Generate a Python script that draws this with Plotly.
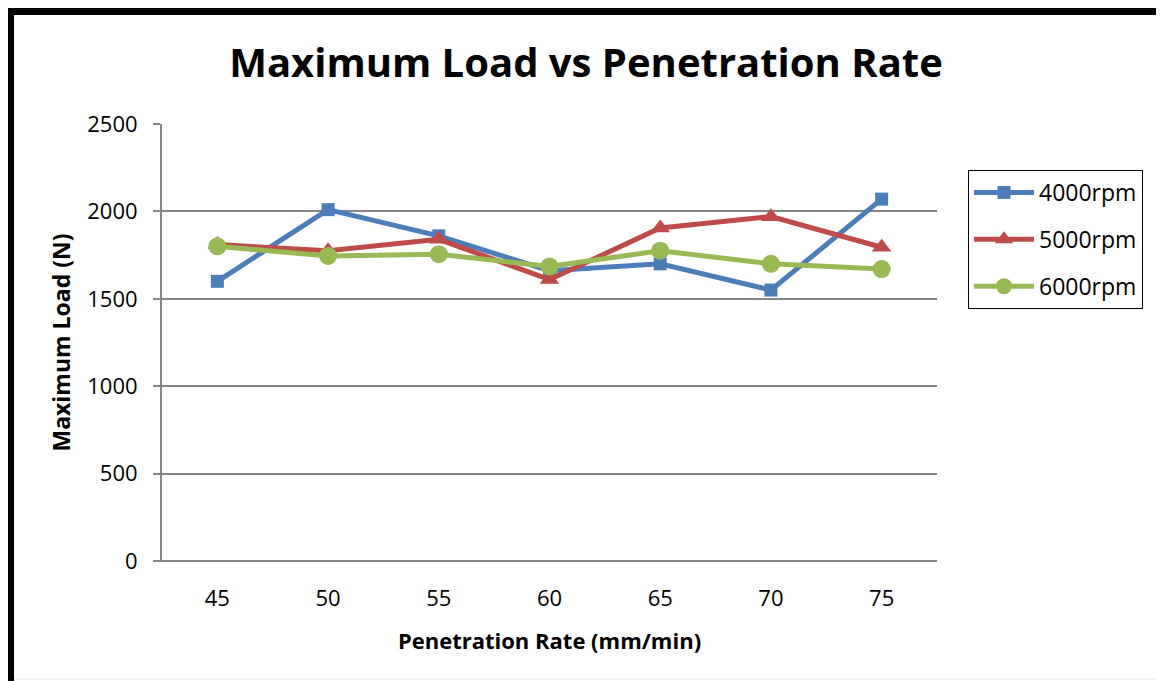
import plotly.graph_objects as go

rates = ["45", "50", "55", "60", "65", "70", "75"]
load_4000 = [1600, 2010, 1860, 1660, 1700, 1550, 2070]
load_5000 = [1810, 1775, 1840, 1610, 1905, 1970, 1795]
load_6000 = [1800, 1745, 1755, 1685, 1775, 1700, 1670]
series_names = ["4000rpm", "5000rpm", "6000rpm"]
y_ticks = [0, 500, 1000, 1500, 2000, 2500]

OFF = 8  # page body margin
W, H = 1164 - OFF, 681 - OFF
# plot area in screen pixels, converted to figure pixels
L, R, T, B = 162 - OFF, 937 - OFF, 124 - OFF, 561 - OFF
FONT = "Open Sans"

fig = go.Figure()
styles = [
    ("#4A7EBB", "square", 13),
    ("#BE4B48", "triangle-up", 17),
    ("#98B954", "circle", 18),
]
for i, (name, vals, (col, sym, sz)) in enumerate(zip(series_names, [load_4000, load_5000, load_6000], styles)):
    fig.add_trace(go.Scatter(
        x=rates, y=vals, name=name, mode="lines+markers", legendgroup=f"g{i}",
        line=dict(color=col, width=5),
        marker=dict(symbol=sym, size=sz, color=col, line=dict(width=0)),
    ))

def px(x):  # screen px -> paper
    return (x - OFF - L) / (R - L)

def py(y):
    return (B - (y - OFF)) / (B - T)

shapes = []
for x0, y0, x1, y1 in [(6, 7, 14, 700), (6, 7, 1180, 15), (1158, 7, 1180, 700)]:
    shapes.append(dict(type="rect", xref="paper", yref="paper",
                       x0=px(x0), x1=px(x1), y0=py(y1), y1=py(y0),
                       fillcolor="black", line=dict(width=0), layer="above"))
shapes.append(dict(type="line", xref="paper", yref="paper",
                   x0=px(14), x1=px(1158), y0=py(679), y1=py(679),
                   line=dict(color="#E6E6E6", width=1)))
shapes.append(dict(type="line", xref="paper", yref="paper",
                   x0=px(154), x1=1, y0=0, y1=0,
                   line=dict(color="#868686", width=2)))

fig.update_layout(
    width=W, height=H,
    margin=dict(l=L, r=W - R, t=T, b=H - B),
    paper_bgcolor="white", plot_bgcolor="white",
    font=dict(family=FONT, color="black", size=22),
    title=dict(text="<b>Maximum Load vs Penetration Rate</b>",
               xref="container", x=(586 - OFF) / W, xanchor="center",
               yref="container", y=1 - (63 - OFF) / H, yanchor="middle",
               font=dict(size=40, family=FONT)),
    xaxis=dict(
        type="category", showgrid=False, showline=False,
        ticks="outside", ticklen=18, tickcolor="rgba(0,0,0,0)",
        tickfont=dict(size=22),
        title=dict(text="<b>Penetration Rate (mm/min)</b>", font=dict(size=22), standoff=22),
        range=[-0.5, 6.5],
    ),
    yaxis=dict(
        range=[0, 2500], tickvals=y_ticks, ticktext=[str(v) for v in y_ticks],
        showgrid=True, gridcolor="#868686", gridwidth=2,
        showline=True, linecolor="#868686", linewidth=2,
        ticks="outside", ticklen=7, tickcolor="#868686", tickwidth=2,
        ticklabelstandoff=11,
        tickfont=dict(size=22), zeroline=False,
        title=dict(text="<b>Maximum Load (N)</b>", font=dict(size=23), standoff=10),
    ),
    legend=dict(
        x=px(968), y=py(170), xanchor="left", yanchor="top",
        bordercolor="black", borderwidth=1, bgcolor="white",
        font=dict(size=23), tracegroupgap=14, itemwidth=60,
    ),
    shapes=shapes,
)

fig.write_html("out.html")
